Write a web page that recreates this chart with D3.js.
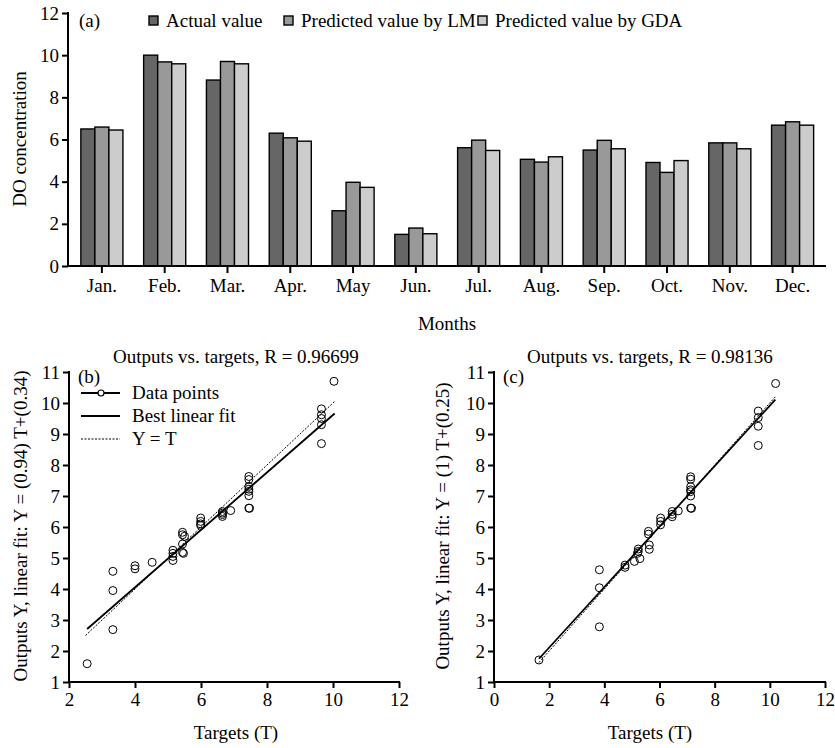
<!DOCTYPE html>
<html>
<head>
<meta charset="utf-8">
<script src="https://cdn.jsdelivr.net/npm/d3@7"></script>
<style>
  body { margin: 0; background: #fff; }
  svg text { font-family: "Liberation Serif", "Times New Roman", serif; fill: #000; }
</style>
</head>
<body>
<svg id="chart" width="835" height="748"></svg>
<script>
// ---- data (a) ----
const months = ["Jan.", "Feb.", "Mar.", "Apr.", "May", "Jun.", "Jul.", "Aug.", "Sep.", "Oct.", "Nov.", "Dec."];
const seriesNames = ["Actual value", "Predicted value by LM", "Predicted value by GDA"];
const actualVals = [6.5, 10.0, 8.82, 6.3, 2.62, 1.5, 5.61, 5.06, 5.5, 4.91, 5.84, 6.68];
const lmVals = [6.59, 9.68, 9.7, 6.08, 3.97, 1.8, 5.97, 4.93, 5.96, 4.44, 5.84, 6.84];
const gdaVals = [6.45, 9.59, 9.59, 5.92, 3.73, 1.53, 5.48, 5.18, 5.56, 5.0, 5.56, 6.68];
const barTicks = [0, 2, 4, 6, 8, 10, 12];

// ---- data (b) ----
const targetsB = [2.55, 3.33, 3.33, 3.33, 4.0, 4.0, 4.52, 5.15, 5.15, 5.15, 5.15, 5.44, 5.44, 5.44, 5.47, 5.44, 5.5,
  5.99, 5.99, 5.99, 5.99, 6.65, 6.65, 6.65, 6.65, 6.9, 7.45, 7.45, 7.45, 7.45, 7.45, 7.45, 7.45, 7.47,
  9.65, 9.65, 9.65, 9.65, 9.65, 10.03];
const outputsB = [1.59, 2.69, 3.95, 4.57, 4.75, 4.65, 4.86, 4.92, 5.05, 5.15, 5.25, 5.83, 5.75, 5.18, 5.15, 5.45, 5.7,
  6.29, 6.18, 6.1, 6.05, 6.5, 6.45, 6.34, 6.4, 6.53, 7.63, 7.53, 7.31, 7.22, 7.15, 7.01, 6.61, 6.6,
  9.81, 9.62, 9.5, 9.3, 8.69, 10.7];
const fitB = { t: [2.55, 10.05], y: [2.71, 9.66] };
const identB = [2.5, 10.05];

// ---- data (c) ----
const targetsC = [1.63, 3.82, 3.82, 3.82, 4.75, 4.75, 5.09, 5.29, 5.23, 5.23, 5.2, 5.6, 5.6, 5.63, 5.63,
  6.04, 6.04, 6.04, 6.46, 6.46, 6.46, 6.68, 7.13, 7.13, 7.13, 7.13, 7.13, 7.13, 7.13, 7.16,
  9.58, 9.58, 9.58, 9.58, 10.21];
const outputsC = [1.71, 2.78, 4.04, 4.62, 4.77, 4.7, 4.89, 4.98, 5.21, 5.29, 5.15, 5.86, 5.77, 5.28, 5.42,
  6.29, 6.18, 6.07, 6.5, 6.41, 6.33, 6.52, 7.62, 7.54, 7.3, 7.2, 7.14, 7.0, 6.61, 6.6,
  9.74, 9.53, 9.25, 8.63, 10.63];
const fitC = { t: [1.63, 10.2], y: [1.75, 10.11] };
const identC = [1.63, 10.2];

const scatterXTicksB = [2, 4, 6, 8, 10, 12];
const scatterXTicksC = [0, 2, 4, 6, 8, 10, 12];
const scatterYTicks = [1, 2, 3, 4, 5, 6, 7, 8, 9, 10, 11];

const svg = d3.select("#chart");
const FS = "19px";

// ================= (a) bar chart =================
(function () {
    const x0 = 68, x1 = 826, yTop = 13, yBot = 266;
    const g = svg.append("g");

    const x = d3.scaleBand().domain(months).range([70.5, 824]).paddingInner(0.33).paddingOuter(0.165);
    const xs = d3.scaleBand().domain(seriesNames).range([0, x.bandwidth()]);
    const y = d3.scaleLinear().domain([0, 12]).range([yBot, yTop]);
    const colors = ["#666666", "#999999", "#cccccc"];
    const allVals = [actualVals, lmVals, gdaVals];

    const rows = months.map((m, i) => ({ m, vals: allVals.map(v => v[i]) }));

    const grp = g.selectAll(".grp").data(rows).enter().append("g")
        .attr("transform", d => `translate(${x(d.m)},0)`);
    grp.selectAll("rect")
        .data(d => d.vals.map((v, k) => ({ v, k })))
        .enter().append("rect")
        .attr("x", d => xs(seriesNames[d.k]))
        .attr("y", d => y(d.v))
        .attr("width", xs.bandwidth())
        .attr("height", d => yBot - y(d.v))
        .attr("fill", d => colors[d.k])
        .attr("stroke", "#000")
        .attr("stroke-width", 1.4);

    // y axis
    const ya = g.append("g").attr("transform", `translate(${x0},0)`)
        .call(d3.axisLeft(y).tickValues(barTicks).tickSize(6).tickSizeOuter(0).tickPadding(3));
    ya.select(".domain").remove();
    ya.selectAll("line").attr("stroke-width", 2);
    ya.selectAll("text").style("font-size", FS);
    g.append("line").attr("x1", x0).attr("x2", x0).attr("y1", yTop - 1).attr("y2", yBot + 1)
        .attr("stroke", "#000").attr("stroke-width", 2);

    // x axis
    const xa = g.append("g").attr("transform", `translate(0,${yBot})`)
        .call(d3.axisBottom(x).tickSize(7).tickSizeOuter(0).tickPadding(6));
    xa.select(".domain").remove();
    xa.selectAll("line").attr("stroke-width", 2);
    xa.selectAll("text").style("font-size", FS);
    g.append("line").attr("x1", x0 - 1).attr("x2", x1).attr("y1", yBot).attr("y2", yBot)
        .attr("stroke", "#000").attr("stroke-width", 2);

    g.append("text").attr("x", 447).attr("y", 330).attr("text-anchor", "middle")
        .style("font-size", FS).text("Months");
    g.append("text").attr("transform", "translate(26,139) rotate(-90)").attr("text-anchor", "middle")
        .style("font-size", FS).text("DO concentration");
    g.append("text").attr("x", 79).attr("y", 27).style("font-size", FS).text("(a)");

    // legend
    const legX = [149, 284, 478];
    seriesNames.forEach((s, k) => {
        g.append("rect").attr("x", legX[k]).attr("y", 16).attr("width", 9).attr("height", 9)
            .attr("fill", colors[k]).attr("stroke", "#000").attr("stroke-width", 1.4);
        g.append("text").attr("x", legX[k] + 17).attr("y", 27).style("font-size", FS).text(s);
    });
})();

// ================= scatter panels =================
function scatter(opt) {
    const g = svg.append("g");
    const x = d3.scaleLinear().domain(opt.xDomain).range([opt.left, opt.right]);
    const y = d3.scaleLinear().domain([1, 11]).range([682, 372]);

    const ya = g.append("g").attr("transform", `translate(${opt.left},0)`)
        .call(d3.axisLeft(y).tickValues(scatterYTicks).tickSize(6).tickSizeOuter(0).tickPadding(3));
    ya.select(".domain").remove();
    ya.selectAll("line").attr("stroke-width", 2);
    ya.selectAll("text").style("font-size", FS);
    g.append("line").attr("x1", opt.left).attr("x2", opt.left).attr("y1", 371).attr("y2", 683)
        .attr("stroke", "#000").attr("stroke-width", 2);

    const xa = g.append("g").attr("transform", `translate(0,682)`)
        .call(d3.axisBottom(x).tickValues(opt.xTicks).tickSize(6).tickSizeOuter(0).tickPadding(5));
    xa.select(".domain").remove();
    xa.selectAll("line").attr("stroke-width", 2);
    xa.selectAll("text").style("font-size", FS);
    g.append("line").attr("x1", opt.left - 1).attr("x2", opt.right + 1).attr("y1", 682).attr("y2", 682)
        .attr("stroke", "#000").attr("stroke-width", 2);

    // Y = T dashed
    g.append("line")
        .attr("x1", x(opt.ident[0])).attr("y1", y(opt.ident[0]))
        .attr("x2", x(opt.ident[1])).attr("y2", y(opt.ident[1]))
        .attr("stroke", "#000").attr("stroke-width", 1).attr("stroke-dasharray", "2,1.5");

    // points
    g.selectAll(".pt").data(opt.t.map((t, i) => [t, opt.o[i]])).enter().append("circle")
        .attr("cx", d => x(d[0])).attr("cy", d => y(d[1])).attr("r", 4)
        .attr("fill", "none").attr("stroke", "#000").attr("stroke-width", 1);

    // best fit
    g.append("line")
        .attr("x1", x(opt.fit.t[0])).attr("y1", y(opt.fit.y[0]))
        .attr("x2", x(opt.fit.t[1])).attr("y2", y(opt.fit.y[1]))
        .attr("stroke", "#000").attr("stroke-width", 1.8);

    g.append("text").attr("x", opt.titleX).attr("y", 363).attr("text-anchor", "middle")
        .style("font-size", FS).text(opt.title);
    g.append("text").attr("x", opt.titleX).attr("y", 739).attr("text-anchor", "middle")
        .style("font-size", FS).text("Targets (T)");
    g.append("text").attr("transform", `translate(${opt.yLabX},526) rotate(-90)`).attr("text-anchor", "middle")
        .style("font-size", FS).text(opt.yLabel);
    g.append("text").attr("x", opt.left + 9).attr("y", 383).style("font-size", FS).text(opt.tag);
    return g;
}

const gb = scatter({
    xDomain: [2, 12], left: 69, right: 399, xTicks: scatterXTicksB,
    t: targetsB, o: outputsB, fit: fitB, ident: identB,
    title: "Outputs vs. targets, R = 0.96699", titleX: 236, yLabX: 27,
    yLabel: "Outputs Y, linear fit: Y = (0.94) T+(0.34)", tag: "(b)"
});

// legend for (b)
const legRows = [
    { label: "Data points", dash: null, marker: true, y: 393 },
    { label: "Best linear fit", dash: null, marker: false, y: 416 },
    { label: "Y = T", dash: "2,1.5", marker: false, y: 439 }
];
legRows.forEach(r => {
    gb.append("line").attr("x1", 81).attr("x2", 120).attr("y1", r.y).attr("y2", r.y)
        .attr("stroke", "#000").attr("stroke-width", r.dash ? 1 : 1.8)
        .attr("stroke-dasharray", r.dash);
    if (r.marker) {
        gb.append("circle").attr("cx", 101).attr("cy", r.y).attr("r", 3)
            .attr("fill", "#fff").attr("stroke", "#000").attr("stroke-width", 1.2);
    }
    gb.append("text").attr("x", 132).attr("y", r.y + 6).style("font-size", FS).text(r.label);
});

scatter({
    xDomain: [0, 12], left: 494, right: 825, xTicks: scatterXTicksC,
    t: targetsC, o: outputsC, fit: fitC, ident: identC,
    title: "Outputs vs. targets, R = 0.98136", titleX: 650, yLabX: 449,
    yLabel: "Outputs Y, linear fit: Y = (1) T+(0.25)", tag: "(c)"
});
</script>
</body>
</html>
